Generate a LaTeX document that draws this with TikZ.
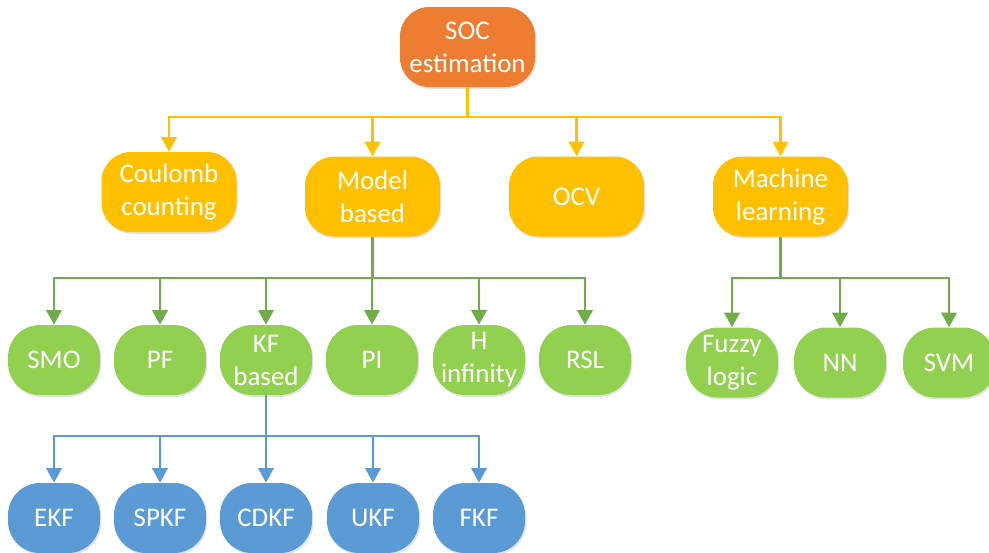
\documentclass[tikz,border=0pt]{standalone}
\usepackage{fontspec}
\setmainfont{Carlito}
\usetikzlibrary{arrows.meta,shadows}
\definecolor{socorange}{HTML}{ED7D31}
\definecolor{catyellow}{HTML}{FFC000}
\definecolor{leafgreen}{HTML}{92D050}
\definecolor{linkgreen}{HTML}{70AD47}
\definecolor{leafblue}{HTML}{5B9BD5}
\begin{document}
\begin{tikzpicture}[x=0.75pt,y=-0.75pt,
  box/.style={text=white, align=center, inner sep=0pt,
    font=\fontsize{20.2}{24.75}\selectfont,
    drop shadow={shadow xshift=0.9pt, shadow yshift=-1.4pt, opacity=0.16, fill=black!70}},
  bigbox/.style={box, rounded corners=22pt, minimum width=101.25pt, minimum height=60pt},
  smallbox/.style={box, rounded corners=24pt, minimum width=69pt, minimum height=52.5pt},
  rootnode/.style={bigbox, fill=socorange},
  catnode/.style={bigbox, fill=catyellow},
  greennode/.style={smallbox, fill=leafgreen},
  bluenode/.style={smallbox, fill=leafblue},
  wire/.style={line width=1.9pt},
  link/.style={wire, -{Triangle[width=11.5pt,length=11pt]}},
  ylink/.style={link, draw=catyellow},
  glink/.style={link, draw=linkgreen},
  blink/.style={link, draw=leafblue}]

\useasboundingbox (0,0) rectangle (989,553);

% root and first-level methods
\node[rootnode] (soc) at (467.5,47) {SOC\\estimation};
\node[catnode] (coul) at (169,192) {Coulomb\\counting};
\node[catnode] (model) at (372.5,196.5) {Model\\based};
\node[catnode] (ocv) at (576.5,196.5) {OCV};
\node[catnode] (ml) at (780.5,196.5) {Machine\\learning};

% model based methods
\node[greennode] (smo) at (54,360) {SMO};
\node[greennode] (pf) at (160,360) {PF};
\node[greennode] (kf) at (266,360) {KF\\based};
\node[greennode] (pi) at (372,360) {PI};
\node[greennode] (hinf) at (479,360) {H\\infinity};
\node[greennode] (rsl) at (585,360) {RSL};

% machine learning methods
\node[greennode] (fuzzy) at (732,362.5) {Fuzzy\\logic};
\node[greennode] (nn) at (840,362.5) {NN};
\node[greennode] (svm) at (949,362.5) {SVM};

% Kalman filter family
\node[bluenode] (ekf) at (54,518) {EKF};
\node[bluenode] (spkf) at (160,518) {SPKF};
\node[bluenode] (cdkf) at (266,518) {CDKF};
\node[bluenode] (ukf) at (373,518) {UKF};
\node[bluenode] (fkf) at (479,518) {FKF};

% junctions of the bus lines
\coordinate (yj) at (soc.south |- 0,117);
\coordinate (gj) at (model.south |- 0,278);
\coordinate (mj) at (ml.south |- 0,278);
\coordinate (bj) at (kf.south |- 0,436);

% yellow connectors
\draw[wire, catyellow] (soc.south) -- (yj);
\foreach \t in {coul,model,ocv,ml} \draw[ylink] (yj) -| (\t.north);

% green connectors
\draw[wire, linkgreen] (model.south) -- (gj);
\foreach \t in {smo,pf,kf,pi,hinf,rsl} \draw[glink] (gj) -| (\t.north);
\draw[wire, linkgreen] (ml.south) -- (mj);
\foreach \t in {fuzzy,nn,svm} \draw[glink] (mj) -| (\t.north);

% blue connectors
\draw[wire, leafblue] (kf.south) -- (bj);
\foreach \t in {ekf,spkf,cdkf,ukf,fkf} \draw[blink] (bj) -| (\t.north);
\end{tikzpicture}
\end{document}
